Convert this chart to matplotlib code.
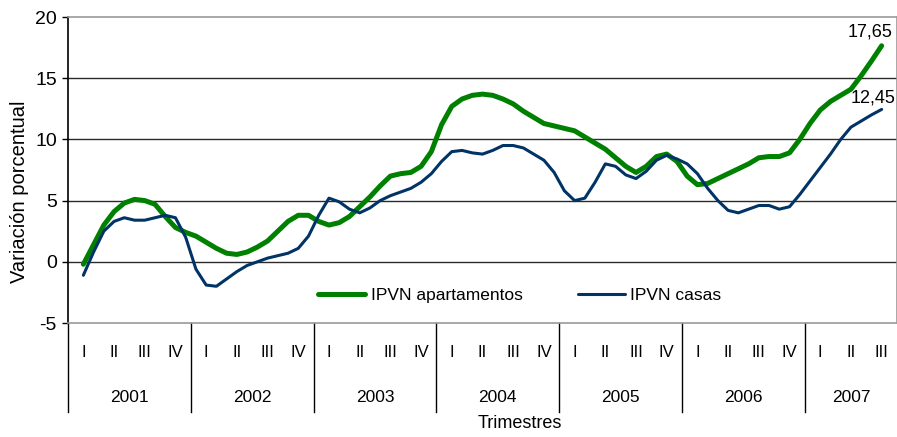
import matplotlib
matplotlib.use('Agg')
import matplotlib.pyplot as plt
import matplotlib.transforms as mtransforms
import numpy as np

plt.rcParams['font.family'] = ['Liberation Sans', 'DejaVu Sans']
plt.rcParams['axes.unicode_minus'] = False

# variación porcentual mensual (desde ene-feb 2001 hasta ago 2007)
apartamentos = [-0.2, 1.4, 3.0, 4.1, 4.8, 5.1, 5.0, 4.7, 3.7, 2.8, 2.4, 2.1, 1.6, 1.1, 0.7, 0.6,
                0.8, 1.2, 1.7, 2.5, 3.3, 3.8, 3.8, 3.3, 3.0, 3.2, 3.7, 4.5, 5.3, 6.2, 7.0, 7.2,
                7.3, 7.8, 9.0, 11.2, 12.7, 13.3, 13.6, 13.7, 13.6, 13.3, 12.9, 12.3, 11.8, 11.3,
                11.1, 10.9, 10.7, 10.2, 9.7, 9.2, 8.5, 7.8, 7.3, 7.8, 8.6, 8.8, 8.2, 7.0, 6.3,
                6.4, 6.8, 7.2, 7.6, 8.0, 8.5, 8.6, 8.6, 8.9, 10.0, 11.3, 12.4, 13.1, 13.6, 14.1,
                15.2, 16.4, 17.65]
casas = [-1.1, 0.8, 2.5, 3.3, 3.6, 3.4, 3.4, 3.6, 3.8, 3.6, 2.0, -0.6, -1.9, -2.0, -1.4, -0.8,
         -0.3, 0.0, 0.3, 0.5, 0.7, 1.1, 2.1, 3.8, 5.2, 4.9, 4.3, 4.0, 4.4, 5.0, 5.4, 5.7,
         6.0, 6.5, 7.2, 8.2, 9.0, 9.1, 8.9, 8.8, 9.1, 9.5, 9.5, 9.3, 8.8, 8.3, 7.3, 5.8,
         5.0, 5.2, 6.5, 8.0, 7.8, 7.1, 6.8, 7.4, 8.3, 8.7, 8.4, 8.0, 7.2, 6.0, 5.0, 4.2,
         4.0, 4.3, 4.6, 4.6, 4.3, 4.5, 5.5, 6.6, 7.7, 8.8, 10.0, 11.0, 11.5, 12.0, 12.45]

anios = ['2001', '2002', '2003', '2004', '2005', '2006', '2007']
trimestres_por_anio = [4, 4, 4, 4, 4, 4, 3]
romanos = ['I', 'II', 'III', 'IV']

n_trim = sum(trimestres_por_anio)
x = 0.5 + np.arange(len(apartamentos)) / 3.0

fig = plt.figure(figsize=(8.97, 4.37), dpi=100)
ax = fig.add_axes([68 / 897, 1 - 323 / 437, 829 / 897, 306 / 437])

ax.plot(x, apartamentos, color='#008000', lw=3.6, solid_capstyle='round',
        label='IPVN apartamentos', zorder=3)
ax.plot(x, casas, color='#003366', lw=2.2, solid_capstyle='round',
        label='IPVN casas', zorder=4)

ax.set_xlim(0, n_trim)
ax.set_ylim(-5, 20)
ax.set_yticks(np.arange(-5, 21, 5))
ax.set_xticks([])
ax.tick_params(axis='y', direction='out', length=4, width=1, labelsize=14, pad=4)
for v in [0, 5, 10, 15]:
    ax.axhline(v, color='#2a2a2a', lw=1, zorder=1)

ax.spines['left'].set_color('black')
ax.spines['left'].set_linewidth(1.2)
for s in ['top', 'bottom', 'right']:
    ax.spines[s].set_color('#9a9a9a')
    ax.spines[s].set_linewidth(1.2)

ax.set_ylabel('Variación porcentual', fontsize=14.5)
ax.yaxis.set_label_coords(-0.047, 0.428)

# etiquetas del eje de categorías (trimestres y años)
trans = mtransforms.blended_transform_factory(ax.transData, ax.transAxes)
inicio = 0
for anio, n in zip(anios, trimestres_por_anio):
    for j in range(n):
        ax.text(inicio + j + 0.5, -0.095, romanos[j], transform=trans,
                ha='center', va='center', fontsize=12)
    ax.text(inicio + n / 2, -0.242, anio, transform=trans,
            ha='center', va='center', fontsize=12.5)
    ax.plot([inicio, inicio], [0, -0.291], transform=trans, color='black',
            lw=1, clip_on=False)
    inicio += n

ax.text(0.545, -0.33, 'Trimestres', transform=ax.transAxes,
        ha='center', va='center', fontsize=13)

# valores finales
ax.annotate('17,65', (x[-1], apartamentos[-1]), xytext=(-8, 4),
            textcoords='offset points', ha='center', va='bottom', fontsize=13)
ax.annotate('12,45', (x[-1], casas[-1]), xytext=(-6.5, 2),
            textcoords='offset points', ha='center', va='bottom', fontsize=13)

ax.legend(loc='center', bbox_to_anchor=(0.545, 0.0915), ncol=2, frameon=False,
          fontsize=12.5, handlelength=2.7, handletextpad=0.3, columnspacing=3.2)

fig.savefig('out.png', dpi=100)
